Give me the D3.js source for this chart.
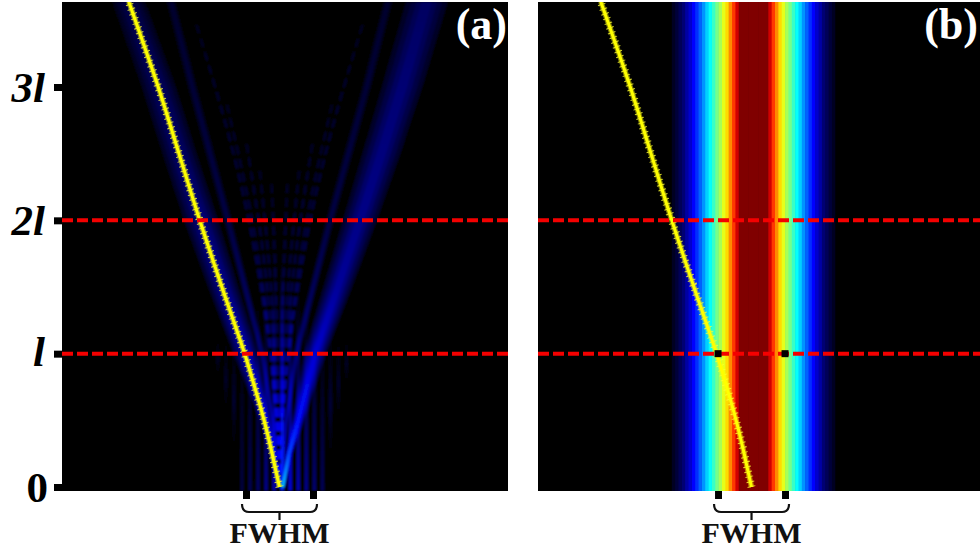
<!DOCTYPE html>
<html>
<head>
<meta charset="utf-8">
<script src="https://cdn.jsdelivr.net/npm/d3@7"></script>
<style>
body { margin: 0; background: #fff; }
svg { display: block; }
text { font-family: "Liberation Serif", serif; font-weight: bold; }
.axis path { display: none; }
</style>
</head>
<body>
<div id="chart"></div>
<script>
// beam position along the propagation axis (z in units of l, x in units of FWHM)
var trackZ = [0, 0.18, 0.25, 0.5, 0.8, 1, 1.5, 2, 2.5, 3, 3.64];
var trackX = [0, -0.08, -0.11, -0.23, -0.4, -0.52, -0.86, -1.19, -1.5, -1.81, -2.25];

// main lobes of panel (a)
var lobeZ  = [0, 0.25, 0.5, 1, 1.5, 2, 2.5, 3, 3.64];
var leftX  = [0, -0.1, -0.2, -0.5, -0.84, -1.17, -1.49, -1.8, -2.25];
var leftW  = [0.03, 0.05, 0.09, 0.18, 0.22, 0.25, 0.25, 0.25, 0.24];
var leftI  = [0.2, 0.16, 0.12, 0.09, 0.07, 0.06, 0.05, 0.045, 0.035];
var rightX = [0.05, 0.14, 0.28, 0.53, 0.87, 1.2, 1.52, 1.83, 2.2];
var rightW = [0.03, 0.05, 0.09, 0.16, 0.21, 0.25, 0.28, 0.3, 0.31];
var rightI = [0.36, 0.2, 0.14, 0.1, 0.075, 0.065, 0.06, 0.055, 0.045];

// second lobes, one on each side
var sideZ  = [0, 0.5, 1, 2, 3, 3.64];
var side1X = [-0.02, -0.1, -0.26, -0.77, -1.3, -1.62];
var side2X = [0.02, 0.1, 0.25, 0.755, 1.3, 1.62];
var sideW  = [0.015, 0.03, 0.05, 0.06, 0.07, 0.07];
var sideI  = [0.15, 0.09, 0.055, 0.032, 0.024, 0.02];

// faint fringes that fan out from the origin: top z, x at the top, and strength
var fringeTop = [3.5, 2.9, 2.6, 2.4, 2.3];
var fringeX   = [1.26, 0.8, 0.5, 0.3, 0.12];
var fringeI   = [0.026, 0.028, 0.03, 0.03, 0.03];

// vertical stripes near the origin, each one starts higher the further out it is
var stripeX    = [-0.92, -0.8, -0.68, -0.56, -0.44, -0.32, -0.2, -0.08, 0.04, 0.16, 0.28, 0.4, 0.52, 0.64, 0.76, 0.88, 1.0];
var stripeBase = [0.85, 0.6, 0.3, 0, 0, 0, 0, 0, 0, 0, 0, 0, 0, 0, 0.25, 0.55, 0.8];
var stripeTop  = [1.1, 1.1, 1.15, 1.2, 1.3, 1.4, 1.6, 1.7, 1.7, 1.6, 1.5, 1.4, 1.3, 1.2, 1.15, 1.1, 1.1];
var stripeI    = [0.014, 0.018, 0.022, 0.03, 0.04, 0.05, 0.07, 0.09, 0.16, 0.11, 0.09, 0.07, 0.055, 0.04, 0.025, 0.018, 0.014];

// transverse intensity of the guided beam in panel (b), centre to edge
var profileX = [0, 0.05, 0.1, 0.15, 0.2, 0.25, 0.3, 0.35, 0.4, 0.45, 0.5, 0.55, 0.6, 0.65, 0.7, 0.75, 0.8, 0.85, 0.9, 0.95, 1, 1.05, 1.1, 1.15, 1.2, 1.25];
var profileI = [1, 1, 1, 1, 1, 0.92, 0.82, 0.74, 0.66, 0.6, 0.54, 0.49, 0.43, 0.38, 0.33, 0.27, 0.22, 0.17, 0.125, 0.1, 0.08, 0.055, 0.04, 0.025, 0.012, 0];
var profileCentre = 0.03;

var zTicks = [0, 1, 2, 3];
var zLabels = ['0', 'l', '2l', '3l'];
var dashedZ = [1, 2];
var fwhmTicks = [-0.5, 0.5];
var panelNames = ['(a)', '(b)'];

var width = 980, height = 552;
var plotTop = 2, plotBottom = 491;

var svg = d3.select('#chart').append('svg')
  .attr('width', width)
  .attr('height', height);
var defs = svg.append('defs');

var z = d3.scaleLinear().domain([0, 3]).range([487, 87]);
var xA = d3.scaleLinear().domain([-3.246, 3.41]).range([62, 508]);
var xB = d3.scaleLinear().domain([-3.187, 3.41]).range([538, 980]);

// black at the floor then the usual jet
var color = d3.scaleLinear()
  .domain([0, 0.01, 0.07, 0.125, 0.375, 0.5, 0.625, 0.875, 1])
  .range(['#000000', '#00001e', '#00008f', '#0000ff', '#00ffff', '#80ff80', '#ffff00', '#ff0000', '#800000'])
  .clamp(true);

defs.append('filter').attr('id', 'soft')
  .attr('filterUnits', 'userSpaceOnUse')
  .attr('x', 0).attr('y', 0).attr('width', width).attr('height', height)
  .append('feGaussianBlur').attr('stdDeviation', 0.9);

var gradCount = 0;
function gradient(zs, vals, factor) {
  var id = 'g' + (gradCount++);
  var g = defs.append('linearGradient').attr('id', id)
    .attr('gradientUnits', 'userSpaceOnUse')
    .attr('x1', 0).attr('x2', 0)
    .attr('y1', z(zs[0])).attr('y2', z(zs[zs.length - 1]));
  zs.forEach(function(v, i) {
    g.append('stop')
      .attr('offset', (v - zs[0]) / (zs[zs.length - 1] - zs[0]))
      .attr('stop-color', color(vals[i] * factor));
  });
  return 'url(#' + id + ')';
}

function panel(x, name) {
  var g = svg.append('g');
  var id = 'clip' + name;
  defs.append('clipPath').attr('id', id).append('rect')
    .attr('x', x.range()[0]).attr('y', plotTop)
    .attr('width', x.range()[1] - x.range()[0]).attr('height', plotBottom - plotTop);
  var inner = g.append('g').attr('clip-path', 'url(#' + id + ')');
  inner.append('rect')
    .attr('x', x.range()[0]).attr('y', plotTop)
    .attr('width', x.range()[1] - x.range()[0]).attr('height', plotBottom - plotTop)
    .attr('fill', '#000');
  return inner;
}

function drawLobe(g, x, zs, xs, ws, vals) {
  var bands = [[1, 0.3], [0.75, 0.55], [0.5, 0.8], [0.25, 1]];
  var lobe = g.append('g').style('mix-blend-mode', 'screen');
  bands.forEach(function(b) {
    var area = d3.area()
      .x0(function(d, i) { return x(xs[i] - ws[i] * b[0]); })
      .x1(function(d, i) { return x(xs[i] + ws[i] * b[0]); })
      .y(function(d) { return z(d); });
    lobe.append('path')
      .attr('d', area(zs))
      .attr('fill', gradient(zs, vals, b[1]));
  });
}

function drawTrack(g, x) {
  var line = d3.line()
    .x(function(d, i) { return x(trackX[i]); })
    .y(function(d) { return z(d); })
    .curve(d3.curveCatmullRom);
  g.append('path').attr('d', line(trackZ))
    .attr('fill', 'none').attr('stroke', '#ffff00').attr('stroke-opacity', 0.5).attr('stroke-width', 5.5);
  g.append('path').attr('d', line(trackZ))
    .attr('fill', 'none').attr('stroke', '#ffff30').attr('stroke-width', 8)
    .attr('stroke-dasharray', '1 4').attr('opacity', 0.8);
  g.append('path').attr('d', line(trackZ))
    .attr('fill', 'none').attr('stroke', '#ffff00').attr('stroke-width', 3);
}

function drawDashes(g, x) {
  g.selectAll('line.dash').data(dashedZ).enter().append('line')
    .attr('class', 'dash')
    .attr('x1', x.range()[0]).attr('x2', x.range()[1])
    .attr('y1', function(d) { return z(d); })
    .attr('y2', function(d) { return z(d); })
    .attr('stroke', '#f40000').attr('stroke-width', 4)
    .attr('stroke-dasharray', '11 4');
}

function drawAxes(x) {
  var bot = svg.append('g').attr('class', 'axis')
    .attr('transform', 'translate(0,' + plotBottom + ')')
    .call(d3.axisBottom(x).tickValues(fwhmTicks).tickSize(8).tickFormat(''));
  bot.selectAll('line').attr('stroke', '#000').attr('stroke-width', 7);

  // little bracket under the two ticks
  var x0 = x(fwhmTicks[0]) - 4, x1 = x(fwhmTicks[1]) + 4, mid = (x0 + x1) / 2;
  var p = d3.path();
  p.moveTo(x0, 504);
  p.quadraticCurveTo(x0, 512, x0 + 7, 512);
  p.lineTo(x1 - 7, 512);
  p.quadraticCurveTo(x1, 512, x1, 504);
  p.moveTo(mid, 512);
  p.lineTo(mid, 520);
  svg.append('path').attr('d', p.toString())
    .attr('fill', 'none').attr('stroke', '#111').attr('stroke-width', 2.2);
  svg.append('text')
    .attr('x', mid).attr('y', 543)
    .attr('text-anchor', 'middle')
    .attr('font-size', 30)
    .attr('fill', '#111')
    .text('FWHM');
}

// panel (a)
var gA = panel(xA, 'A');
var heat = gA.append('g').attr('filter', 'url(#soft)');
heat.append('rect')
  .attr('x', xA.range()[0]).attr('y', plotTop)
  .attr('width', xA.range()[1] - xA.range()[0]).attr('height', plotBottom - plotTop)
  .attr('fill', '#000');

stripeX.forEach(function(sx, i) {
  var base = stripeBase[i], tip = stripeTop[i];
  var zs = [base, base + (tip - base) * 0.4, tip];
  var vals = base > 0 ? [0, stripeI[i], 0] : [stripeI[i], stripeI[i] * 0.6, 0];
  heat.append('rect')
    .attr('x', xA(sx) - 1.5).attr('width', 3)
    .attr('y', z(tip)).attr('height', z(base) - z(tip) + (base > 0 ? 0 : 4))
    .attr('fill', gradient(zs, vals, 1))
    .style('mix-blend-mode', 'screen');
});

fringeTop.forEach(function(t, i) {
  [-1, 1].forEach(function(side) {
    var line = d3.line()
      .x(function(d) { return xA(d[0]); })
      .y(function(d) { return z(d[1]); })
      .curve(d3.curveMonotoneY);
    var pts = [[0, 0], [side * fringeX[i] * 0.12, t * 0.3], [side * fringeX[i] * 0.42, t * 0.62], [side * fringeX[i], t]];
    var zs = pts.map(function(d) { return d[1]; });
    heat.append('path').attr('d', line(pts))
      .attr('fill', 'none')
      .attr('stroke', gradient(zs, [0.1, 0.045, fringeI[i], fringeI[i] * 0.5], 1))
      .attr('stroke-width', 2.4)
      .attr('stroke-dasharray', '9 5')
      .style('mix-blend-mode', 'screen');
  });
});

drawLobe(heat, xA, sideZ, side1X, sideW, sideI);
drawLobe(heat, xA, sideZ, side2X, sideW, sideI);
drawLobe(heat, xA, lobeZ, leftX, leftW, leftI);
drawLobe(heat, xA, lobeZ, rightX, rightW, rightI);

drawTrack(gA, xA);
drawDashes(gA, xA);

// panel (b)
var gB = panel(xB, 'B');
var cellW = xB(profileX[1]) - xB(profileX[0]);
[-1, 1].forEach(function(side) {
  gB.selectAll('rect.cell' + (side + 1)).data(profileX).enter().append('rect')
    .attr('class', 'cell' + (side + 1))
    .attr('x', function(d) { return xB(profileCentre + side * d) - cellW / 2 - 0.3; })
    .attr('y', plotTop)
    .attr('width', cellW + 0.6)
    .attr('height', plotBottom - plotTop)
    .attr('fill', function(d, i) { return color(profileI[i]); });
});
drawTrack(gB, xB);
drawDashes(gB, xB);

// black squares where the FWHM meets the first dashed line
gB.selectAll('rect.mark').data(fwhmTicks).enter().append('rect')
  .attr('class', 'mark')
  .attr('x', function(d) { return xB(d) - 3.5; })
  .attr('y', z(1) - 3.5)
  .attr('width', 7).attr('height', 7)
  .attr('fill', '#000');

// z axis
var yAxis = svg.append('g').attr('class', 'axis')
  .attr('transform', 'translate(' + xA.range()[0] + ',0)')
  .call(d3.axisLeft(z).tickValues(zTicks).tickSize(8).tickPadding(9)
    .tickFormat(function(d, i) { return zLabels[i]; }));
yAxis.selectAll('line').attr('stroke', '#000').attr('stroke-width', 7);
yAxis.selectAll('text')
  .attr('font-size', 43)
  .attr('fill', '#000')
  .attr('dx', function(d) { return d === 0 ? 3 : 0; })
  .attr('dy', function(d) { return d === 1 ? '0.28em' : '0.33em'; })
  .style('font-family', '"Liberation Serif", serif')
  .style('font-weight', 'bold')
  .style('font-style', function(d) { return d === 0 ? 'normal' : 'italic'; });

drawAxes(xA);
drawAxes(xB);

// panel letters
svg.selectAll('text.name').data(panelNames).enter().append('text')
  .attr('class', 'name')
  .attr('x', function(d, i) { return i === 0 ? xA.range()[1] - 1 : xB.range()[1] - 2; })
  .attr('y', 39)
  .attr('text-anchor', 'end')
  .attr('font-size', 44)
  .attr('fill', '#fff')
  .text(function(d) { return d; });
</script>
</body>
</html>
